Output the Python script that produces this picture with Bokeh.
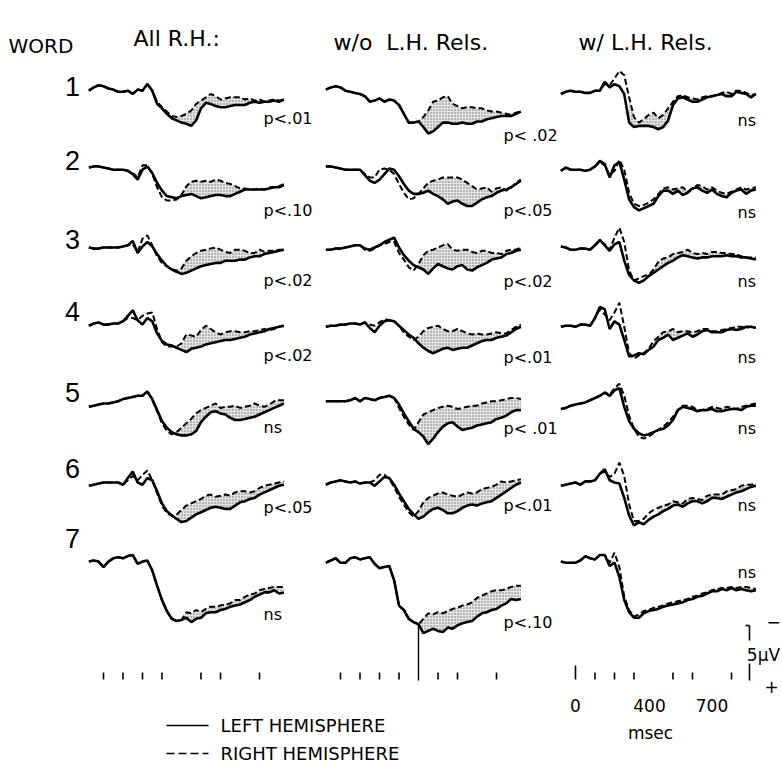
import numpy as np
from bokeh.plotting import figure
from bokeh.models import Range1d, Label
from bokeh.embed import file_html
from bokeh.resources import INLINE

# ---------------- data ----------------
T_MS = list(range(-75, 926, 25))  # 41 time points (ms)

COLUMN_TITLES = ["All R.H.:", "w/o\u00a0\u00a0L.H. Rels.", "w/ L.H. Rels."]
WORDS = ["1", "2", "3", "4", "5", "6", "7"]
P_ALL_RH = ["p<.01", "p<.10", "p<.02", "p<.02", "ns", "p<.05", "ns"]
P_WO_LH = ["p<\u00a0.02", "p<.05", "p<.02", "p<.01", "p<\u00a0.01", "p<.01", "p<.10"]
P_W_LH = ["ns", "ns", "ns", "ns", "ns", "ns", "ns"]
TICKS_MS = [0, 100, 200, 300, 500, 600, 800]
TIME_LABELS_MS = [0, 400, 700]
SCALE_UV = 5

# amplitudes in microvolts (negative up), left (L) and right (R) hemisphere
A1L = [0.2,-0.1,-0.3,-0.2,0.0,0.1,0.3,0.3,0.2,0.5,0.1,0.2,-0.4,0.2,1.4,1.8,2.3,2.7,2.9,3.1,3.2,3.4,2.9,1.8,1.3,1.4,1.6,1.7,1.7,1.6,1.5,1.5,1.5,1.3,1.2,1.3,1.2,1.2,1.1,1.2,1.0]
A1R = [0.2,-0.1,-0.3,-0.2,0.0,0.1,0.3,0.3,0.2,0.5,0.1,0.2,-0.4,0.2,1.2,1.7,2.1,2.5,2.6,2.5,2.3,2.0,1.4,1.1,0.8,0.5,0.7,1.0,0.9,0.8,0.8,0.8,1.0,0.9,1.1,1.0,1.2,1.1,1.0,1.1,1.0]
B1L = [0.1,-0.1,-0.2,-0.1,0.2,0.3,0.4,0.5,0.7,1.2,1.1,0.9,1.2,1.0,1.1,1.5,2.3,3.1,3.1,3.0,3.5,4.1,3.9,3.5,3.1,3.1,3.2,3.2,3.1,3.2,3.2,3.0,3.0,2.8,2.7,2.6,2.5,2.5,2.5,2.3,2.1]
B1R = [0.1,-0.1,-0.2,-0.1,0.2,0.3,0.4,0.5,0.7,1.2,1.1,0.9,1.2,1.0,1.1,1.5,2.3,3.1,3.1,3.0,2.6,2.0,1.2,1.1,0.8,0.7,1.4,1.6,1.8,1.7,1.7,1.8,1.8,2.0,2.1,2.1,2.2,2.3,2.4,2.2,2.1]
C1L = [0.5,0.3,0.2,0.3,0.3,0.4,0.4,0.2,0.2,-0.6,-0.1,-0.4,-0.2,0.5,3.1,3.5,3.4,3.4,3.4,3.5,3.7,3.5,2.9,1.5,0.9,0.8,1.0,1.2,1.2,1.0,0.8,0.7,0.6,0.5,0.7,0.7,0.3,0.4,0.5,0.8,0.5]
C1R = [0.5,0.3,0.2,0.3,0.3,0.4,0.4,0.2,0.2,-0.4,-0.3,-0.9,-1.6,-1.2,0.8,2.6,3.1,2.8,2.4,2.2,2.7,2.4,1.8,1.2,0.7,0.6,0.8,0.9,1.0,0.8,0.7,0.7,0.6,0.4,0.3,0.5,0.2,0.2,0.4,0.6,0.5]

A2L = [0.0,-0.1,-0.1,0.0,0.1,0.2,0.2,0.2,0.3,0.6,1.1,0.2,-0.1,0.5,1.4,2.1,2.6,2.7,2.8,2.6,2.5,2.4,2.6,2.8,2.7,2.6,2.5,2.5,2.6,2.6,2.4,2.2,2.0,2.0,2.0,2.0,2.0,1.9,1.8,1.8,1.6]
A2R = [0.0,-0.1,-0.1,0.0,0.1,0.2,0.2,0.2,0.3,0.5,0.9,-0.2,-0.2,0.6,1.8,2.7,3.0,3.0,2.9,2.5,1.7,1.3,1.2,1.3,1.2,1.3,1.1,1.2,1.4,1.5,1.7,1.9,1.9,2.0,2.0,1.9,2.0,1.8,1.8,1.7,1.5]
B2L = [-0.1,-0.1,0.0,0.1,0.2,0.2,0.2,0.2,0.7,1.2,1.4,1.1,0.6,0.1,0.2,0.8,1.5,2.1,2.4,2.4,2.3,2.1,2.4,2.6,2.9,3.3,3.1,3.0,3.3,3.5,3.5,3.2,2.9,2.7,2.6,2.3,2.1,2.0,1.8,1.5,1.2]
B2R = [-0.1,-0.1,0.0,0.1,0.2,0.2,0.2,0.2,0.6,0.9,0.9,0.2,0.1,0.2,0.6,1.5,2.3,2.9,2.8,2.4,1.9,1.4,1.2,1.1,0.9,0.9,0.9,0.9,1.1,1.4,1.7,2.0,1.9,1.8,2.2,1.9,1.8,2.1,1.8,1.4,1.1]
C2L = [0.3,0.0,0.2,0.2,0.2,0.3,0.2,-0.1,-0.6,-0.3,0.9,-0.2,-0.5,1.1,2.9,3.6,3.9,3.7,3.5,3.3,2.6,2.1,2.1,2.4,2.1,2.5,2.3,1.9,1.8,2.1,2.3,2.0,2.4,2.6,2.7,2.3,2.1,2.0,2.4,2.1,2.0]
C2R = [0.3,0.0,0.2,0.2,0.2,0.3,0.2,-0.1,-0.5,-0.2,0.7,0.3,-0.7,0.2,2.3,3.3,3.5,3.4,3.2,2.9,2.4,1.9,1.8,2.0,1.9,1.8,2.2,1.9,1.6,1.7,2.0,1.8,2.1,2.3,2.4,2.2,2.0,1.8,2.0,1.9,1.8]

A3L = [0.0,0.1,0.1,0.0,0.0,0.0,0.0,-0.1,-0.2,-0.6,0.5,-0.1,-0.5,-0.1,0.6,1.2,1.7,2.0,2.2,2.4,2.3,2.1,1.9,1.7,1.6,1.5,1.4,1.4,1.2,1.2,1.2,1.1,1.1,0.9,0.8,0.8,0.6,0.5,0.4,0.3,0.2]
A3R = [0.0,0.1,0.1,0.0,0.0,0.0,0.0,-0.1,-0.2,-0.3,0.4,-0.8,-1.1,-0.2,0.8,1.4,1.7,2.0,2.1,1.9,1.2,0.8,0.5,0.3,0.2,0.1,0.0,0.2,0.4,0.5,0.2,0.2,0.3,0.5,0.5,0.2,0.4,0.3,0.3,0.2,0.2]
B3L = [0.2,0.2,0.1,0.1,0.0,-0.1,-0.2,-0.2,0.1,0.2,0.0,-0.2,-0.5,-0.7,-0.9,0.0,0.7,1.2,1.6,1.8,2.0,2.4,1.9,1.5,1.7,1.9,2.0,1.7,1.6,2.0,2.1,1.8,1.6,1.4,1.1,1.0,0.9,0.6,0.5,0.3,0.2]
B3R = [0.2,0.2,0.1,0.1,0.0,-0.1,-0.2,-0.2,0.2,0.3,0.1,-0.2,-0.3,-0.5,-0.5,0.5,1.1,1.8,2.1,1.5,0.7,0.3,0.2,0.0,-0.2,-0.3,0.2,0.3,0.2,0.2,0.4,0.5,0.3,0.3,0.5,0.5,0.6,0.3,0.2,0.2,0.0]
C3L = [-0.1,0.0,0.2,0.2,0.1,0.1,0.2,-0.2,-0.7,-0.2,0.3,-0.3,-0.5,1.2,2.5,3.0,3.2,3.0,2.6,2.3,2.0,1.7,1.4,1.2,0.9,0.7,0.8,0.9,1.0,0.9,0.9,0.8,0.8,0.8,0.7,0.8,0.8,0.9,0.9,1.0,1.1]
C3R = [-0.1,0.0,0.2,0.2,0.1,0.1,0.2,-0.2,-0.6,-0.3,0.2,-0.9,-1.8,-0.5,2.1,3.0,2.8,2.6,2.5,2.0,1.3,1.0,0.9,0.6,0.5,0.4,0.2,0.5,0.6,0.5,0.6,0.4,0.4,0.5,0.5,0.6,0.6,0.8,0.9,0.9,0.9]

A4L = [0.2,0.0,-0.1,0.1,0.1,0.0,0.0,-0.2,-0.7,-1.2,-0.3,0.1,-0.5,-0.2,0.9,1.6,1.9,2.0,2.2,2.4,2.6,2.3,2.2,2.1,1.9,1.8,1.7,1.6,1.5,1.5,1.4,1.3,1.2,1.0,0.9,0.8,0.7,0.5,0.4,0.3,0.2]
A4R = [0.2,0.0,-0.1,0.1,0.1,0.0,0.0,-0.2,-0.5,-0.5,-0.3,-0.7,-0.9,-1.0,0.5,1.7,2.1,2.1,2.1,1.8,1.0,1.1,1.2,0.6,0.2,0.5,0.8,1.0,0.8,0.7,0.7,0.8,0.8,0.7,0.7,0.6,0.5,0.6,0.5,0.3,0.2]
B4L = [0.3,0.2,0.2,0.1,0.1,0.0,0.0,0.1,-0.1,0.4,0.8,0.2,-0.2,-0.3,-0.2,0.2,0.6,1.0,1.3,1.8,2.2,2.5,2.7,2.5,2.3,2.2,2.4,2.3,2.2,2.2,2.0,1.8,1.6,1.5,1.5,1.3,1.2,1.1,0.8,0.5,0.3]
B4R = [0.3,0.2,0.2,0.1,0.1,0.0,0.0,0.1,-0.1,0.1,0.2,-0.1,-0.4,-0.3,-0.2,0.2,0.8,1.2,1.5,1.2,0.7,0.4,0.3,0.2,0.5,0.7,0.7,0.5,0.7,0.9,1.0,0.9,1.0,1.0,0.9,0.8,0.9,0.9,0.6,0.3,0.1]
C4L = [0.3,0.2,0.2,0.3,0.1,0.1,0.2,-0.5,-1.5,-1.3,0.5,-0.2,0.1,1.5,3.0,2.9,2.7,2.8,2.4,2.1,1.5,1.3,1.0,1.5,1.3,1.1,0.9,1.2,1.0,0.7,0.6,0.8,0.8,0.8,0.6,0.5,0.6,0.5,0.3,0.3,0.4]
C4R = [0.3,0.2,0.2,0.3,0.1,0.1,0.2,-0.5,-1.3,-0.8,-0.3,-1.0,-1.9,0.3,2.7,3.2,2.9,2.7,2.3,1.6,1.2,0.8,0.7,0.5,0.8,0.7,0.7,0.8,0.7,0.5,0.5,0.7,0.7,0.6,0.5,0.4,0.3,0.3,0.4,0.3,0.3]

A5L = [0.3,0.2,0.1,0.0,0.0,-0.1,-0.2,-0.4,-0.5,-0.6,-0.7,-0.7,-1.1,-0.4,0.6,1.6,2.2,2.6,2.8,2.9,2.9,2.8,2.5,1.7,1.2,0.8,0.7,0.9,1.0,1.3,1.5,1.5,1.4,1.3,1.2,1.0,0.8,0.6,0.4,0.2,0.0]
A5R = [0.3,0.2,0.1,0.0,0.0,-0.1,-0.2,-0.4,-0.5,-0.6,-0.7,-0.7,-1.1,-0.3,0.7,1.8,2.5,2.8,2.6,2.2,1.8,1.4,0.9,0.6,0.4,0.2,0.0,0.4,0.3,0.3,0.2,0.4,0.3,0.2,0.0,0.2,0.3,0.1,-0.2,-0.3,-0.3]
B5L = [-0.2,-0.2,-0.2,-0.2,-0.2,-0.3,-0.5,-0.2,-0.5,-0.4,-0.3,-0.5,-0.6,-0.7,-0.5,0.1,0.9,1.6,2.3,2.6,3.0,3.7,3.2,2.6,2.1,1.8,1.7,2.1,2.4,2.3,2.2,2.0,1.9,1.8,1.7,1.4,1.3,1.1,0.8,0.6,0.6]
B5R = [-0.2,-0.2,-0.2,-0.2,-0.2,-0.3,-0.5,-0.2,-0.5,-0.4,-0.3,-0.5,-0.6,-0.7,-0.5,0.4,1.2,1.9,2.4,1.7,1.0,0.8,0.6,0.4,0.3,0.2,0.3,0.5,0.4,0.3,0.2,0.2,0.0,-0.1,-0.2,-0.2,-0.3,-0.4,-0.5,-0.5,-0.4]
C5L = [0.5,0.4,0.2,0.1,0.0,-0.1,-0.3,-0.5,-0.7,-1.0,-0.7,-1.2,-1.4,0.3,1.6,2.3,2.7,2.9,2.8,2.6,2.4,2.3,2.0,1.5,0.6,0.3,0.4,0.5,0.7,0.6,0.6,0.5,0.7,0.7,0.6,0.5,0.5,0.6,0.3,0.2,0.2]
C5R = [0.5,0.4,0.2,0.1,0.0,-0.1,-0.3,-0.5,-0.7,-1.0,-0.8,-1.4,-1.8,-0.7,1.1,2.3,3.0,3.2,3.0,2.7,2.4,2.1,1.7,1.2,0.6,0.2,0.2,0.3,0.6,0.6,0.5,0.3,0.4,0.5,0.3,0.4,0.5,0.3,0.2,0.1,0.0]

A6L = [0.3,0.2,0.1,0.0,0.0,0.0,0.0,0.2,-0.4,-1.0,0.0,0.2,-0.4,-0.2,0.8,1.9,2.6,3.0,3.3,3.6,3.5,3.2,2.9,2.7,2.5,2.3,2.2,2.3,2.4,2.4,2.1,1.8,1.7,1.5,1.4,1.1,0.9,0.7,0.5,0.3,0.2]
A6R = [0.3,0.2,0.1,0.0,0.0,0.0,0.0,0.2,-0.2,-0.6,-0.2,-0.7,-1.1,-0.2,1.0,2.1,2.8,3.0,2.9,2.5,2.1,1.9,1.7,1.5,1.2,1.1,1.3,1.2,1.1,1.2,0.9,0.8,0.8,0.9,0.8,0.5,0.3,0.2,0.1,0.0,-0.1]
B6L = [0.2,0.0,-0.1,-0.2,-0.1,0.0,-0.1,0.1,0.0,0.0,0.3,-0.1,-0.5,-0.4,0.2,1.0,1.7,2.4,2.9,3.3,3.1,2.7,2.4,2.3,2.5,2.8,2.8,2.6,2.3,2.1,2.0,2.1,1.9,1.8,1.7,1.4,1.1,0.8,0.5,0.2,0.0]
B6R = [0.2,0.0,-0.1,-0.2,-0.1,0.0,-0.1,0.1,0.0,0.0,-0.2,-0.7,-0.7,-0.3,0.4,1.3,2.0,2.7,3.1,2.6,1.8,1.4,1.2,1.0,0.9,1.1,1.2,1.3,1.1,0.9,1.0,0.9,0.6,0.5,0.4,0.2,-0.1,0.0,-0.1,-0.2,-0.3]
C6L = [0.3,0.2,0.1,0.0,0.2,-0.1,-0.1,-0.2,-0.8,-1.2,-0.2,0.0,0.1,1.4,3.0,3.9,3.6,3.8,3.4,3.1,2.9,2.6,2.4,2.1,2.0,2.2,1.9,1.7,1.7,1.9,1.7,1.4,1.4,1.5,1.3,1.1,0.9,0.8,0.6,0.4,0.3]
C6R = [0.3,0.2,0.1,0.0,0.2,-0.1,-0.1,-0.2,-0.8,-1.0,-0.5,-0.8,-1.8,-0.6,2.0,3.5,3.5,3.3,2.8,2.5,2.3,2.1,2.0,1.7,1.8,1.9,1.5,1.4,1.5,1.6,1.2,1.1,1.1,1.1,0.8,0.7,0.6,0.3,0.2,0.2,0.1]

A7L = [0.1,0.0,0.1,0.6,0.1,-0.2,-0.3,-0.2,-0.4,-0.5,0.3,0.1,0.0,0.9,2.3,3.6,4.6,5.3,5.5,5.4,5.2,5.6,5.3,5.2,4.8,4.7,4.7,4.5,4.4,4.2,4.1,4.0,3.8,3.6,3.3,3.1,2.9,2.9,2.7,3.0,2.9]
A7R = [0.1,0.0,0.1,0.6,0.1,-0.2,-0.3,-0.2,-0.4,-0.5,0.3,0.1,0.0,0.9,2.3,3.6,4.6,5.3,5.5,5.4,4.7,4.8,4.5,4.7,4.4,4.2,4.2,4.1,4.0,3.9,3.6,3.6,3.3,3.1,3.0,2.7,2.6,2.5,2.4,2.4,2.4]
B7L = [0.2,0.0,-0.2,0.2,0.2,-0.2,-0.3,-0.1,-0.2,-0.3,0.3,0.7,0.6,0.5,1.8,4.1,4.5,5.3,5.6,5.8,6.6,6.4,6.2,6.4,6.5,6.1,6.2,5.9,5.7,5.6,5.5,5.1,4.8,4.7,4.5,4.4,4.1,3.9,3.5,3.6,3.5]
B7R = [0.2,0.0,-0.2,0.2,0.2,-0.2,-0.3,-0.1,-0.2,-0.3,0.3,0.7,0.6,0.5,1.8,4.1,4.5,5.3,5.6,5.8,5.3,4.8,4.9,4.7,4.8,4.6,4.4,4.3,4.1,4.0,3.8,3.4,3.2,3.0,2.8,2.7,2.7,2.6,2.4,2.3,2.3]
C7L = [0.1,0.2,0.2,0.2,0.0,-0.4,-0.2,-0.1,-0.5,-0.5,0.5,0.2,1.5,3.6,4.7,5.2,5.2,4.8,4.6,4.5,4.4,4.2,4.1,4.0,3.9,3.8,3.6,3.5,3.3,3.2,3.0,2.8,2.8,2.6,2.7,2.5,2.7,2.6,2.7,2.8,2.7]
C7R = [0.1,0.2,0.2,0.2,0.0,-0.4,-0.2,-0.1,-0.5,-0.5,0.2,-0.7,0.6,3.3,4.5,5.1,4.9,4.6,4.5,4.3,4.2,4.1,3.9,3.8,3.7,3.6,3.5,3.3,3.2,3.0,2.9,2.7,2.6,2.5,2.5,2.4,2.5,2.4,2.4,2.5,2.6]

LEFT = [[A1L, B1L, C1L], [A2L, B2L, C2L], [A3L, B3L, C3L], [A4L, B4L, C4L],
        [A5L, B5L, C5L], [A6L, B6L, C6L], [A7L, B7L, C7L]]
RIGHT = [[A1R, B1R, C1R], [A2R, B2R, C2R], [A3R, B3R, C3R], [A4R, B4R, C4R],
         [A5R, B5R, C5R], [A6R, B6R, C6R], [A7R, B7R, C7R]]
# start of the shaded (stippled) difference region, ms
SHADE_FROM = [[375, 350, 275], [400, 375, 400], [375, 375, 375], [400, 400, 400],
              [375, 375, 375], [375, 400, 425], [400, 400, 400]]
P_LABELS = [P_ALL_RH, P_WO_LH, P_W_LH]

# ---------------- layout ----------------
W, H = 782, 764
COL_X0 = [103, 340, 575]          # pixel x of t = 0 ms in each column
PX_PER_MS = 0.195
ROW_Y0 = [88, 167, 247, 323, 403, 482, 560]   # pixel y of 0 uV in each row
PX_PER_UV = 11.0
WORD_Y = [86, 160, 239, 311, 392, 468, 538]
P_X = [263, 503, 737]
P_Y = [[118, 210, 280, 355, 427, 507, 614],
       [135, 210, 281, 357, 428, 505, 622],
       [120, 212, 281, 357, 428, 505, 572]]
TICK_Y = (672, 679)

FONT = "DejaVu Sans"
INK = "black"

p = figure(width=W, height=H, x_range=Range1d(0, W), y_range=Range1d(H, 0),
           x_axis_type=None, y_axis_type=None, output_backend="svg",
           toolbar_location=None, min_border=0)
p.grid.visible = False
p.outline_line_color = None
p.background_fill_color = "white"
p.border_fill_color = "white"


def label(x, y, text, size, align="left", font=FONT):
    p.add_layout(Label(x=x, y=y, text=text, text_font=font,
                       text_font_size=size, text_align=align,
                       text_baseline="middle", text_color=INK))


t = np.array(T_MS, dtype=float)

for r in range(7):
    for c in range(3):
        x = COL_X0[c] + PX_PER_MS * t
        yl = ROW_Y0[r] + PX_PER_UV * np.array(LEFT[r][c])
        yr = ROW_Y0[r] + PX_PER_UV * np.array(RIGHT[r][c])
        m = t >= SHADE_FROM[r][c]
        p.varea(x=x[m], y1=yl[m], y2=yr[m], fill_color="#e4e4e4",
                hatch_pattern="dot", hatch_color="#6f6f6f", hatch_scale=3,
                hatch_weight=1)
        p.line(x, yr, line_color=INK, line_width=2.0, line_dash="6 3")
        p.line(x, yl, line_color=INK, line_width=2.6)
        label(P_X[c], P_Y[c][r], P_LABELS[c][r], "16px")

# time ticks under each column
tk = np.array(TICKS_MS, dtype=float)
for c in range(3):
    xs = COL_X0[c] + PX_PER_MS * tk
    y0 = [TICK_Y[0]] * len(xs)
    if c == 2:
        y0 = [TICK_Y[0] - 7 if v == 0 else TICK_Y[0] for v in TICKS_MS]
    p.segment(x0=xs, y0=y0, x1=xs, y1=[TICK_Y[1]] * len(xs),
              line_color=INK, line_width=1.6)

# 400 ms marker line in middle column reaching to the word-7 waveform
i400 = T_MS.index(400)
x400 = COL_X0[1] + PX_PER_MS * 400
p.segment(x0=[x400], y0=[ROW_Y0[6] + PX_PER_UV * LEFT[6][1][i400]],
          x1=[x400], y1=[TICK_Y[1] + 1], line_color=INK, line_width=1.4)

# time labels under right column
for ms in TIME_LABELS_MS:
    label(COL_X0[2] + PX_PER_MS * ms - (4 if ms == 400 else 0), 705, str(ms),
          "17px", align="center")
label(650, 732, "msec", "17px", align="center")

# amplitude calibration bar
sx = 749
sy_top = 625
sy_bot = sy_top + SCALE_UV * PX_PER_UV
p.segment(x0=[sx - 4, sx, sx], y0=[sy_top, sy_top, sy_bot - 17],
          x1=[sx, sx, sx], y1=[sy_top, sy_top + 15, sy_bot],
          line_color=INK, line_width=1.6)
label(763, (sy_top + sy_bot) / 2 + 2, "5\u00b5V", "17px", align="center")
label(773, sy_top - 4, "\u2212", "17px", align="center")
label(771, sy_bot + 6, "+", "17px", align="center")

# headers
label(8, 45, "WORD", "20px")
HEAD_X = [133, 333, 578]
HEAD_Y = [38, 42, 42]
for c in range(3):
    label(HEAD_X[c], HEAD_Y[c], COLUMN_TITLES[c], "22px")

# word numbers
for r in range(7):
    label(72, WORD_Y[r], WORDS[r], "27px", align="center",
          font="Liberation Sans")

# legend
p.segment(x0=[166], y0=[725], x1=[208], y1=[725], line_color=INK,
          line_width=1.6)
p.segment(x0=[166], y0=[753], x1=[208], y1=[753], line_color=INK,
          line_width=1.6, line_dash="8 4")
label(220, 725, "LEFT HEMISPHERE", "18px")
label(220, 753, "RIGHT HEMISPHERE", "18px")

open("out.html", "w").write(file_html(p, INLINE))
